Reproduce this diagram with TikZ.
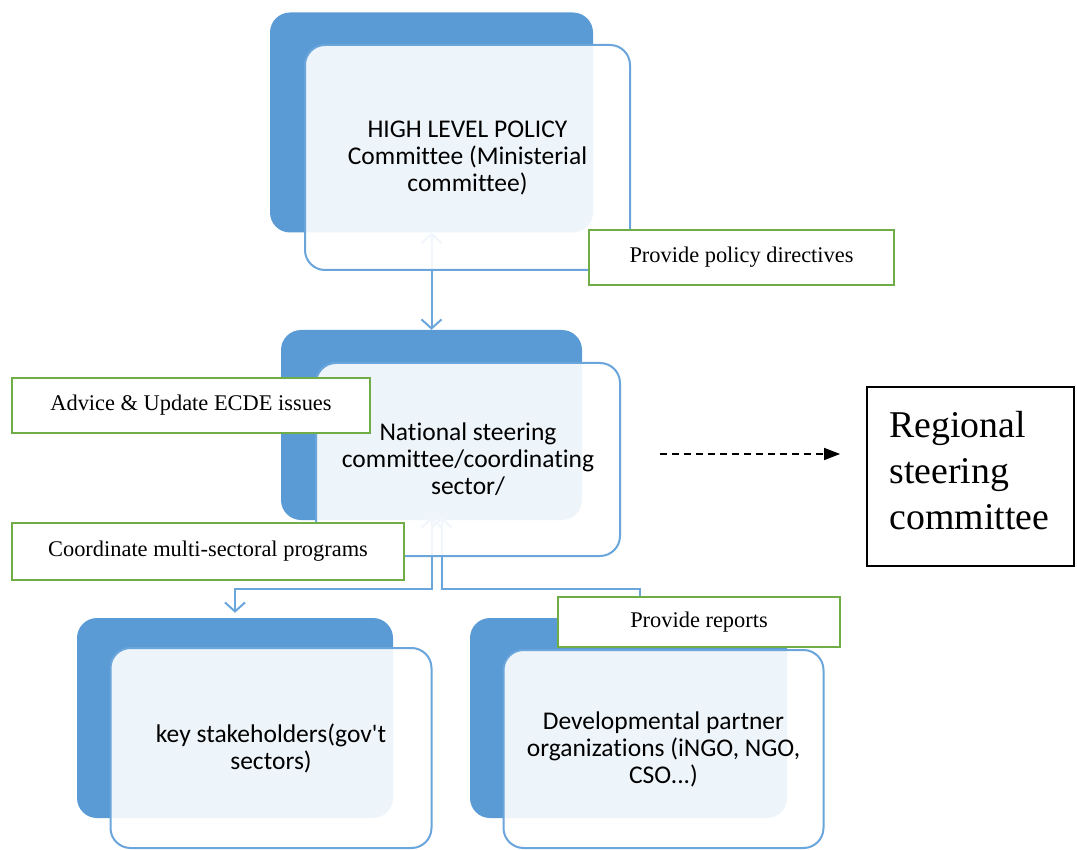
\documentclass[tikz,border=0pt]{standalone}
\usepackage{fontspec}
\setmainfont{Liberation Serif}
\newfontfamily\boxfont[Ligatures=CommonOff]{Carlito}
\usetikzlibrary{arrows.meta}
\definecolor{smartblue}{HTML}{5B9BD5}
\definecolor{lineblue}{HTML}{6AA5DB}
\definecolor{notegreen}{HTML}{70AD47}
\tikzstyle{backbox} = [rectangle, rounded corners=20pt, draw=none, fill=smartblue]
\tikzstyle{frontbox} = [rectangle, rounded corners=20pt, draw=lineblue, line width=2pt, fill=white, fill opacity=0.9, text opacity=1, align=center, text=black, font=\boxfont\fontsize{25.5}{27}\selectfont]
\tikzstyle{note} = [rectangle, draw=notegreen, line width=2.8pt, fill=white, text centered, font=\fontsize{22.4}{24}\selectfont]
\tikzstyle{regbox} = [rectangle, draw=black, line width=1.8pt, fill=white, align=left, text width=162pt, inner xsep=22pt, font=\fontsize{37.8}{46}\selectfont]
\tikzstyle{conn} = [lineblue, line width=2pt, {Straight Barb[length=9pt,width=20pt]}-{Straight Barb[length=9pt,width=20pt]}]
\tikzstyle{dasharrow} = [black, line width=1.5pt, dash pattern=on 7pt off 5pt, -{Triangle[length=16pt,width=12pt]}]

\begin{document}
\begin{tikzpicture}[x=1pt, y=-1pt]
		\clip (0,0) rectangle (1077,850);
		% back (dark) boxes
		\node (hlpback) [backbox, minimum width=323pt, minimum height=220pt] at (431.5,122.5) {};
		\node (nscback) [backbox, minimum width=301pt, minimum height=190pt] at (431.5,425) {};
		\node (kstback) [backbox, minimum width=316pt, minimum height=200pt] at (235,718) {};
		\node (dpoback) [backbox, minimum width=317pt, minimum height=200pt] at (628.5,718) {};
		
		% connectors, behind the front boxes
		\draw [conn] (hlpback.south) -- (nscback.north);
		\draw [conn, shorten <=-3pt, shorten >=5pt] (nscback.south) -- ++(0,69) -| (kstback.north);
		\draw [conn, shorten <=-3pt] ([xshift=10pt]nscback.south) -- ++(0,69) -| ([xshift=11pt, yshift=5pt]dpoback.north);
		
		% front boxes
		\node (hlp) [frontbox, minimum width=325pt, minimum height=225pt] at (467.5,157.5) {HIGH LEVEL POLICY\\Committee (Ministerial\\committee)};
		\node (nsc) [frontbox, minimum width=304pt, minimum height=193pt] at (468,459.5) {National steering\\committee/coordinating\\sector/};
		\node (kst) [frontbox, minimum width=321pt, minimum height=200pt] at (271,748) {key stakeholders(gov't\\sectors)};
		\node (dpo) [frontbox, minimum width=320pt, minimum height=198pt] at (663.5,749) {Developmental partner\\organizations (iNGO, NGO,\\CSO...)};
		
		% notes
		\node (ppd) [note, minimum width=305pt, minimum height=55pt] at (741.5,257.5) {Provide policy directives};
		\node (adv) [note, minimum width=358pt, minimum height=55pt] at (191,405.5) {Advice \& Update ECDE issues};
		\node (cmp) [note, minimum width=392pt, minimum height=57pt] at (208,551.5) {Coordinate multi-sectoral programs};
		\node (rep) [note, minimum width=282pt, minimum height=50pt] at (699,622) {Provide reports};
		
		% regional committee
		\node (rsc) [regbox, minimum width=207pt, minimum height=179pt] at (970.5,476.5) {Regional\\steering\\committee\rule[-12pt]{0pt}{0pt}};
		\coordinate (dashstart) at (660,454);
		\draw [dasharrow] (dashstart) -- (dashstart -| rsc.west) [shorten >=26pt];
		\end{tikzpicture}
\end{document}
